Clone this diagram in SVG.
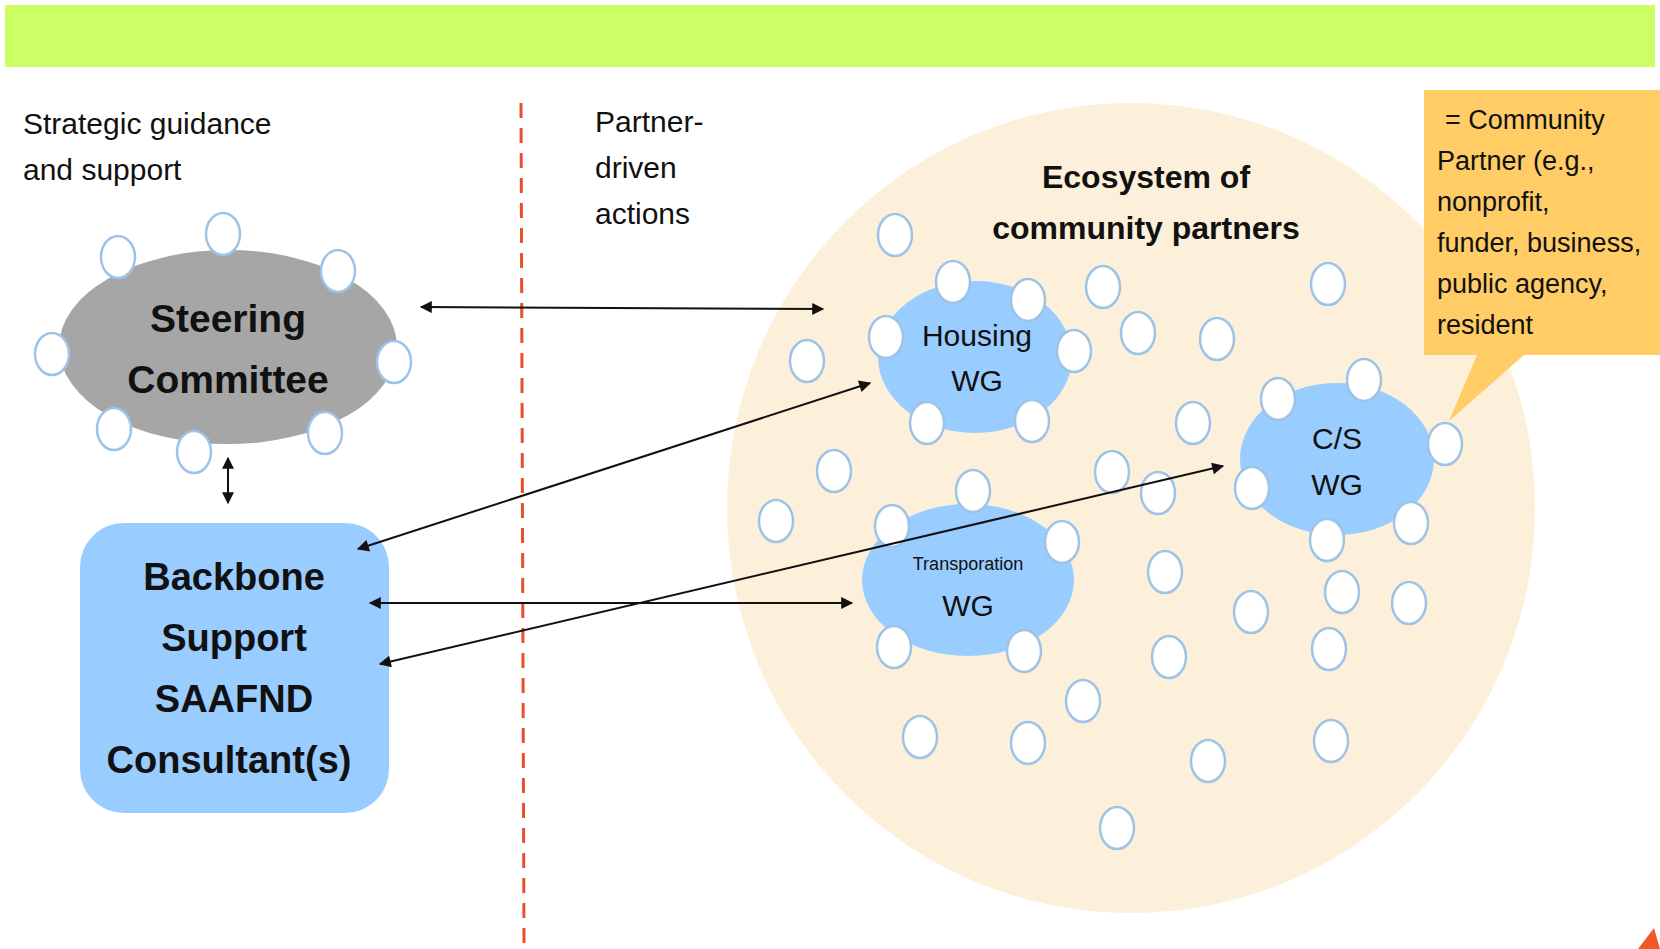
<svg xmlns="http://www.w3.org/2000/svg" width="1660" height="949" viewBox="0 0 1660 949">
<style>
.t{font-family:"Liberation Sans",Arial,sans-serif;fill:#111}
.b{font-weight:bold}
.p{fill:#fff;stroke:#9dc3e6;stroke-width:2.5}
.wg{fill:#99ccff}
.c{stroke:#111;stroke-width:2;fill:none;marker-start:url(#ah);marker-end:url(#ah)}
</style>
<defs>
<marker id="ah" viewBox="0 0 10 10" refX="9" refY="5" markerWidth="7" markerHeight="6" markerUnits="strokeWidth" orient="auto-start-reverse">
<path d="M0,0 L10,5 L0,10 z" fill="#111"/>
</marker>
<ellipse id="cp" rx="17" ry="21"/>
</defs>
<rect x="0" y="0" width="1660" height="949" fill="#fff"/>
<rect id="topbar" x="5" y="5" width="1650" height="62" fill="#ccff66"/>
<g id="labels">
<text class="t" x="23" y="134" font-size="30">Strategic guidance</text>
<text class="t" x="23" y="180" font-size="30">and support</text>
<text class="t" x="595" y="132" font-size="30">Partner-</text>
<text class="t" x="595" y="178" font-size="30">driven</text>
<text class="t" x="595" y="224" font-size="30">actions</text>
</g>
<line id="divider" x1="521" y1="103" x2="524" y2="945" stroke="#e8502a" stroke-width="3" stroke-dasharray="15,10"/>
<g id="ecosystem">
<ellipse cx="1131" cy="508" rx="404" ry="405" fill="#fdf0da"/>
<text class="t b" x="1146" y="188" font-size="32" text-anchor="middle">Ecosystem of</text>
<text class="t b" x="1146" y="239" font-size="32" text-anchor="middle">community partners</text>
</g>
<g id="partners">
<use href="#cp" class="p" x="895" y="235"/>
<use href="#cp" class="p" x="807" y="361"/>
<use href="#cp" class="p" x="1103" y="287"/>
<use href="#cp" class="p" x="1138" y="333"/>
<use href="#cp" class="p" x="1217" y="339"/>
<use href="#cp" class="p" x="1328" y="284"/>
<use href="#cp" class="p" x="1193" y="423"/>
<use href="#cp" class="p" x="834" y="471"/>
<use href="#cp" class="p" x="1112" y="472"/>
<use href="#cp" class="p" x="1158" y="493"/>
<use href="#cp" class="p" x="776" y="521"/>
<use href="#cp" class="p" x="1165" y="572"/>
<use href="#cp" class="p" x="1342" y="592"/>
<use href="#cp" class="p" x="1409" y="603"/>
<use href="#cp" class="p" x="1251" y="612"/>
<use href="#cp" class="p" x="1329" y="649"/>
<use href="#cp" class="p" x="1169" y="657"/>
<use href="#cp" class="p" x="1083" y="701"/>
<use href="#cp" class="p" x="920" y="737"/>
<use href="#cp" class="p" x="1028" y="743"/>
<use href="#cp" class="p" x="1208" y="761"/>
<use href="#cp" class="p" x="1331" y="741"/>
<use href="#cp" class="p" x="1117" y="828"/>
</g>
<g id="steering">
<ellipse cx="228" cy="347" rx="169" ry="97" fill="#a6a6a6"/>
<text class="t b" x="228" y="332" font-size="39" text-anchor="middle">Steering</text>
<text class="t b" x="228" y="393" font-size="39" text-anchor="middle">Committee</text>
<use href="#cp" class="p" x="223" y="234"/>
<use href="#cp" class="p" x="118" y="257"/>
<use href="#cp" class="p" x="338" y="271"/>
<use href="#cp" class="p" x="52" y="354"/>
<use href="#cp" class="p" x="394" y="362"/>
<use href="#cp" class="p" x="114" y="429"/>
<use href="#cp" class="p" x="194" y="452"/>
<use href="#cp" class="p" x="325" y="433"/>
</g>
<g id="backbone">
<rect x="80" y="523" width="309" height="290" rx="44" fill="#99ccff"/>
<text class="t b" x="234" y="590" font-size="38" text-anchor="middle">Backbone</text>
<text class="t b" x="234" y="651" font-size="38" text-anchor="middle">Support</text>
<text class="t b" x="234" y="712" font-size="38" text-anchor="middle">SAAFND</text>
<text class="t b" x="229" y="773" font-size="38" text-anchor="middle">Consultant(s)</text>
</g>
<g id="housing">
<ellipse class="wg" cx="975" cy="357" rx="97" ry="76"/>
<text class="t" x="977" y="346" font-size="30" text-anchor="middle">Housing</text>
<text class="t" x="977" y="391" font-size="30" text-anchor="middle">WG</text>
<use href="#cp" class="p" x="953" y="282"/>
<use href="#cp" class="p" x="1028" y="300"/>
<use href="#cp" class="p" x="886" y="337"/>
<use href="#cp" class="p" x="1074" y="351"/>
<use href="#cp" class="p" x="927" y="423"/>
<use href="#cp" class="p" x="1032" y="421"/>
</g>
<g id="transportation">
<ellipse class="wg" cx="968" cy="580" rx="106" ry="76"/>
<text class="t" x="968" y="570" font-size="18" text-anchor="middle">Transporation</text>
<text class="t" x="968" y="616" font-size="30" text-anchor="middle">WG</text>
<use href="#cp" class="p" x="973" y="491"/>
<use href="#cp" class="p" x="892" y="526"/>
<use href="#cp" class="p" x="1062" y="542"/>
<use href="#cp" class="p" x="894" y="647"/>
<use href="#cp" class="p" x="1024" y="651"/>
</g>
<g id="cs">
<ellipse class="wg" cx="1337" cy="459" rx="97" ry="76"/>
<text class="t" x="1337" y="449" font-size="30" text-anchor="middle">C/S</text>
<text class="t" x="1337" y="495" font-size="30" text-anchor="middle">WG</text>
<use href="#cp" class="p" x="1278" y="399"/>
<use href="#cp" class="p" x="1364" y="380"/>
<use href="#cp" class="p" x="1445" y="444"/>
<use href="#cp" class="p" x="1252" y="488"/>
<use href="#cp" class="p" x="1411" y="523"/>
<use href="#cp" class="p" x="1327" y="540"/>
</g>
<g id="callout">
<path d="M1424,90 H1660 V355 H1524 L1449,421 L1477,355 H1424 Z" fill="#ffcc66"/>
<text class="t" x="1445" y="129" font-size="27">= Community</text>
<text class="t" x="1437" y="170" font-size="27">Partner (e.g.,</text>
<text class="t" x="1437" y="211" font-size="27">nonprofit,</text>
<text class="t" x="1437" y="252" font-size="27">funder, business,</text>
<text class="t" x="1437" y="293" font-size="27">public agency,</text>
<text class="t" x="1437" y="334" font-size="27">resident</text>
</g>
<g id="connectors">
<line class="c" x1="421" y1="307" x2="823" y2="309"/>
<line class="c" x1="228" y1="458" x2="228" y2="503"/>
<line class="c" x1="358" y1="549" x2="870" y2="383"/>
<line class="c" x1="370" y1="603" x2="852" y2="603"/>
<line class="c" x1="380" y1="664" x2="1223" y2="466"/>
</g>
<path id="corner" d="M1654,928 L1638,949 L1660,949 Z" fill="#f05a28"/>
</svg>
